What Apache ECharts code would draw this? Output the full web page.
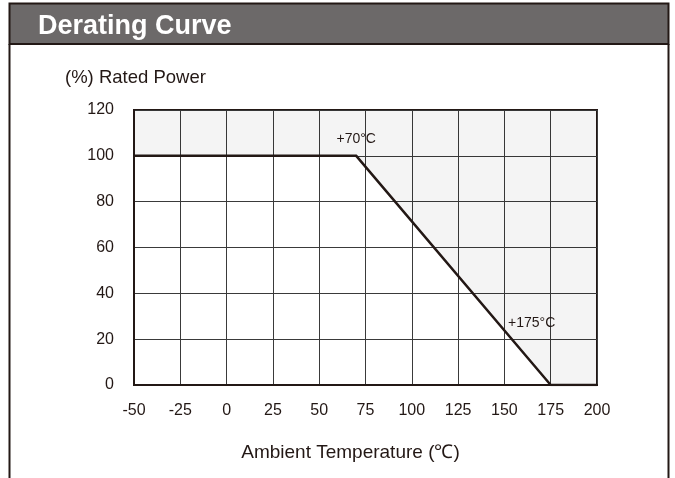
<!DOCTYPE html>
<html>
<head>
<meta charset="utf-8">
<script src="https://cdn.jsdelivr.net/npm/echarts@6/dist/echarts.min.js"></script>
<style>
html,body{margin:0;padding:0;background:#fff;}
#chart{width:675px;height:478px;}
</style>
</head>
<body>
<div id="chart"></div>
<script>
const titleText = 'Derating Curve';
const yAxisName = '(%) Rated Power';
const xAxisName = 'Ambient Temperature (℃)';
const temps = [-50, 70, 175, 200];
const power = [100, 100, 0, 0];
const pointLabels = ['', '+70°C', '+175°C', ''];

const dark = '#231815';
const font = 'Liberation Sans, Arial, sans-serif';

const labelOffsets = [[0, 0], [0, 0], [-19, -45], [0, 0]];
const curveData = temps.map((t, i) => ({
  value: [t, power[i]],
  label: pointLabels[i] ? {show: true, formatter: pointLabels[i], offset: labelOffsets[i]} : {show: false}
}));

const chart = echarts.init(document.getElementById('chart'));
chart.setOption({
  animation: false,
  title: {text: yAxisName, left: 60, top: 63, textStyle: {color: dark, fontSize: 18.5, fontWeight: 'normal', fontFamily: font}},
  graphic: [
    {type: 'rect', shape: {x: 9.5, y: 3.5, width: 659, height: 40.5}, style: {fill: '#6c6969', stroke: dark, lineWidth: 2}, z: 10},
    {type: 'text', x: 38, y: 27, style: {text: titleText, fill: '#fff', font: 'bold 27px ' + font, textVerticalAlign: 'middle'}, z: 11},
    {type: 'line', shape: {x1: 9.5, y1: 44, x2: 9.5, y2: 478}, style: {stroke: dark, lineWidth: 2}},
    {type: 'line', shape: {x1: 668.5, y1: 44, x2: 668.5, y2: 478}, style: {stroke: dark, lineWidth: 2}}
  ],
  grid: {left: 134, right: 78, top: 110, bottom: 93, show: true, borderColor: dark, borderWidth: 2, backgroundColor: 'transparent'},
  xAxis: {
    type: 'value', min: -50, max: 200, interval: 25,
    name: xAxisName, nameLocation: 'middle', nameGap: 58,
    nameTextStyle: {color: dark, fontSize: 19, fontFamily: font, padding: [0, 30, 0, 0]},
    axisLine: {show: true, onZero: false, lineStyle: {color: dark, width: 2}},
    axisTick: {show: false},
    axisLabel: {color: dark, fontSize: 16, fontFamily: font, margin: 18},
    splitLine: {show: true, lineStyle: {color: '#3a3a3a', width: 1}}
  },
  yAxis: {
    type: 'value', min: 0, max: 120, interval: 20,
    axisLine: {show: true, onZero: false, lineStyle: {color: dark, width: 2}},
    axisTick: {show: false},
    axisLabel: {color: dark, fontSize: 16, fontFamily: font, margin: 20},
    splitLine: {show: true, lineStyle: {color: '#3a3a3a', width: 1}}
  },
  series: [
    {
      type: 'line', data: curveData, symbol: 'circle', symbolSize: 2, z: 5,
      itemStyle: {color: dark},
      lineStyle: {color: dark, width: 2.5},
      areaStyle: {origin: 'end', color: 'rgba(0,0,0,0.045)', opacity: 1},
      label: {position: 'top', color: dark, fontSize: 14, fontFamily: font, distance: 9}
    }
  ]
});
</script>
</body>
</html>
